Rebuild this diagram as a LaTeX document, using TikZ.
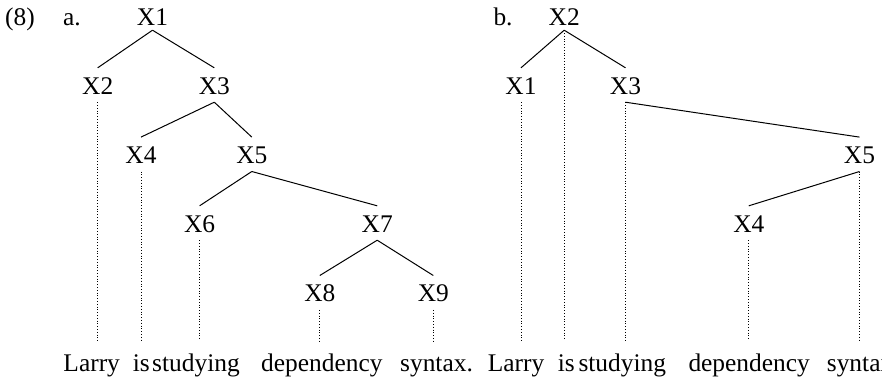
\documentclass[tikz,border=0pt]{standalone}
\usepackage{fontspec}
\setmainfont{Liberation Serif}
\begin{document}
\begin{tikzpicture}[x=1bp,y=-1bp,
  every node/.style={font=\fontsize{25.5}{30}\selectfont, inner sep=0pt},
  cat/.style={text height=26bp, text depth=8bp, anchor=base},
  rootcat/.style={text height=26bp, text depth=5bp, anchor=base},
  word/.style={text height=30.7bp, text depth=8bp, anchor=base west},
  lbl/.style={anchor=base west},
  branch/.style={line width=1bp},
  proj/.style={line width=0.8bp, dash pattern=on 0.8bp off 2bp}]
\useasboundingbox (0,0) rectangle (882,380);
\clip (0,0) rectangle (882,380);
% labels
\node[lbl] (num) at (5,25) {(8)};
\node[lbl] (la) at (63,25) {a.};
\node[lbl] (lb) at (493.3,25) {b.};
% tree a
\node[rootcat] (a1) at (152.5,25) {X1};
\node[cat] (a2) at (97.7,94) {X2};
\node[cat] (a3) at (214.3,94) {X3};
\node[cat] (a4) at (141,163.3) {X4};
\node[cat] (a5) at (251.8,163.3) {X5};
\node[cat] (a6) at (199.6,232) {X6};
\node[cat] (a7) at (377.2,232) {X7};
\node[cat] (a8) at (319.8,301.7) {X8};
\node[cat] (a9) at (433.3,301.7) {X9};
\node[word] (wa1) at (63.3,371.7) {Larry};
\node[word] (wa2) at (132.7,371.7) {is};
\node[word] (wa3) at (152,371.7) {studying};
\node[word] (wa4) at (261,371.7) {dependency};
\node[word] (wa5) at (400,371.7) {syntax.};
\draw[branch] (a1.south) -- (a2.north);
\draw[branch] (a1.south) -- (a3.north);
\draw[branch] (a3.south) -- (a4.north);
\draw[branch] (a3.south) -- (a5.north);
\draw[branch] (a5.south) -- (a6.north);
\draw[branch] (a5.south) -- (a7.north);
\draw[branch] (a7.south) -- (a8.north);
\draw[branch] (a7.south) -- (a9.north);
\draw[proj] (a2.south) -- (a2.south |- wa1.north);
\draw[proj] (a4.south) -- (a4.south |- wa2.north);
\draw[proj] (a6.south) -- (a6.south |- wa3.north);
\draw[proj] (a8.south) -- (a8.south |- wa4.north);
\draw[proj] (a9.south) -- (a9.south |- wa5.north);
% tree b
\node[rootcat] (b2) at (564.2,25) {X2};
\node[cat] (b1) at (521,94) {X1};
\node[cat] (b3) at (625.5,94) {X3};
\node[cat] (b5) at (859.5,163.3) {X5};
\node[cat] (b4) at (748.8,232) {X4};
\node[word] (wb1) at (487.7,371.7) {Larry};
\node[word] (wb2) at (557.7,371.7) {is};
\node[word] (wb3) at (578.3,371.7) {studying};
\node[word] (wb4) at (688.3,371.7) {dependency};
\node[word] (wb5) at (826.7,371.7) {syntax.};
\draw[branch] (b2.south) -- (b1.north);
\draw[branch] (b2.south) -- (b3.north);
\draw[branch] (b3.south) -- (b5.north);
\draw[branch] (b5.south) -- (b4.north);
\draw[proj] (b1.south) -- (b1.south |- wb1.north);
\draw[proj] (b2.south) -- (b2.south |- wb2.north);
\draw[proj] (b3.south) -- (b3.south |- wb3.north);
\draw[proj] (b4.south) -- (b4.south |- wb4.north);
\draw[proj] (b5.south) -- (b5.south |- wb5.north);
\end{tikzpicture}
\end{document}
